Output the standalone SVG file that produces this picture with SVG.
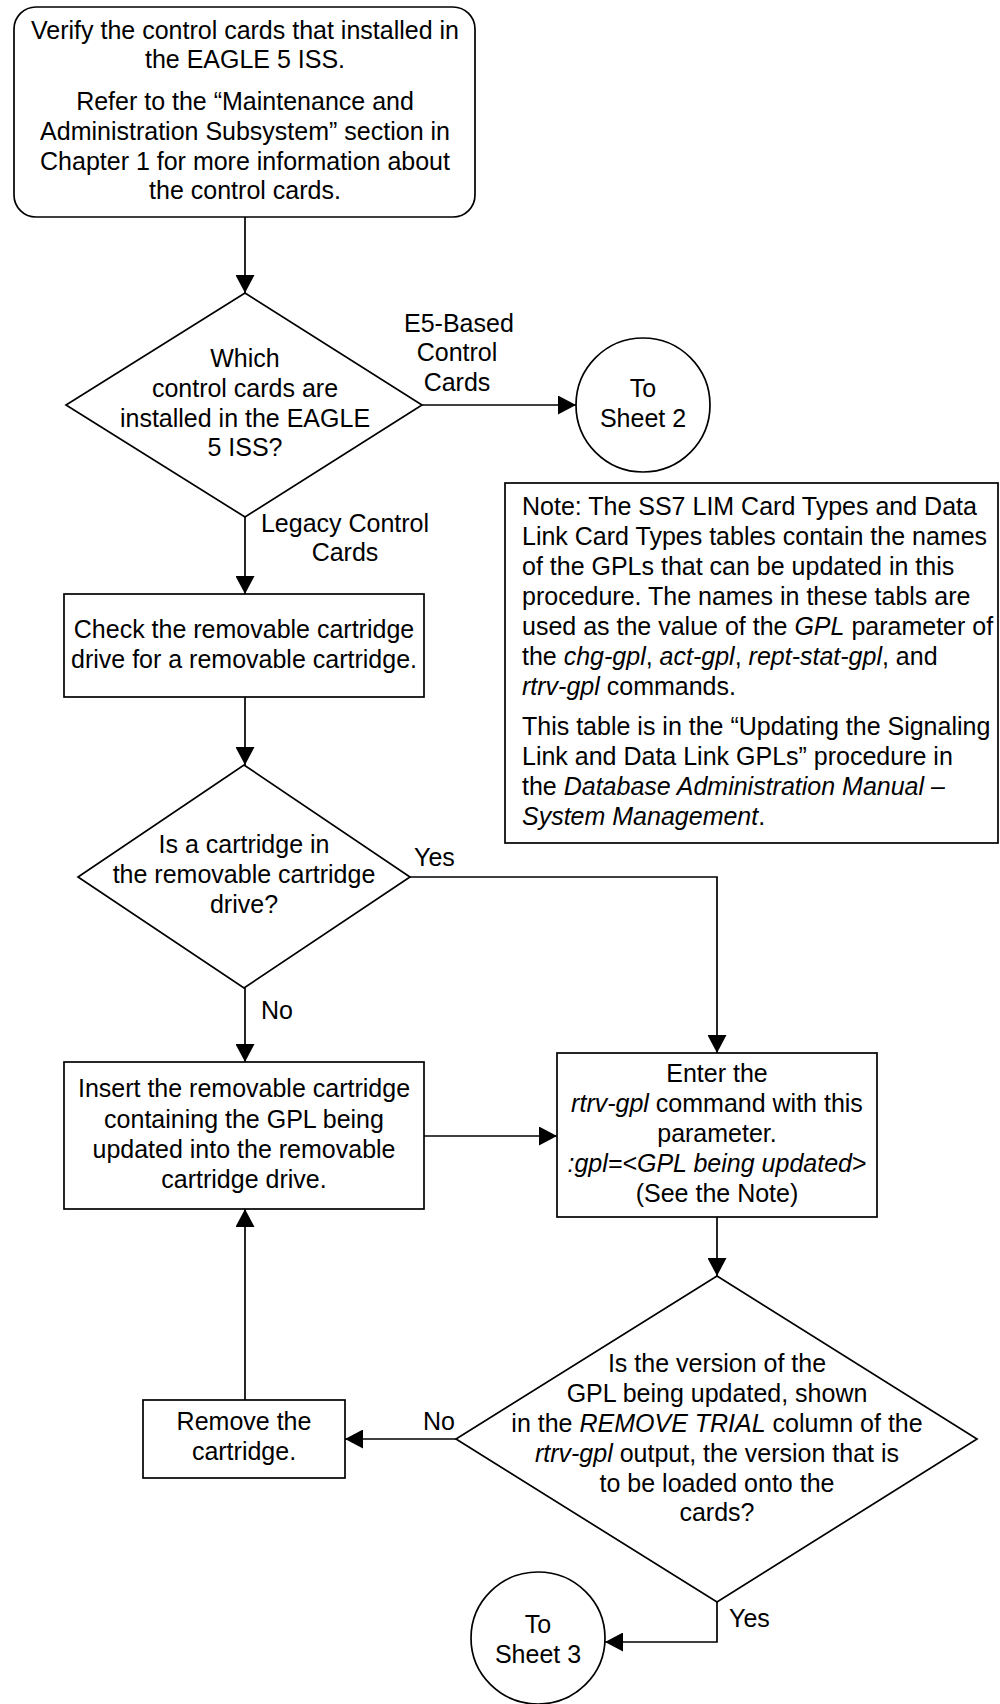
<svg xmlns="http://www.w3.org/2000/svg" width="1000" height="1704" viewBox="0 0 1000 1704">
<defs>
<style>
text{font-family:"Liberation Sans",Arial,sans-serif;font-size:25px;fill:#000}
.c{text-anchor:middle}
.i{font-style:italic}
.s{fill:#fff;stroke:#000;stroke-width:1.7}
.l{fill:none;stroke:#000;stroke-width:1.7}
</style>
<marker id="a" markerUnits="userSpaceOnUse" markerWidth="19" markerHeight="19" refX="18" refY="9.5" orient="auto" viewBox="0 0 19 19">
<path d="M0,0 L18,9.5 L0,19 z" fill="#000"/>
</marker>
</defs>
<rect width="1000" height="1704" fill="#fff"/>
<g id="connectors">
<path class="l" d="M245,217 V293" marker-end="url(#a)"/>
<path class="l" d="M422,405 H576" marker-end="url(#a)"/>
<path class="l" d="M245,517 V594" marker-end="url(#a)"/>
<path class="l" d="M245,697 V765" marker-end="url(#a)"/>
<path class="l" d="M410,877 H717 V1053" marker-end="url(#a)"/>
<path class="l" d="M245,988 V1062" marker-end="url(#a)"/>
<path class="l" d="M424,1136 H557" marker-end="url(#a)"/>
<path class="l" d="M717,1217 V1276" marker-end="url(#a)"/>
<path class="l" d="M456,1439 H345" marker-end="url(#a)"/>
<path class="l" d="M245,1400 V1209" marker-end="url(#a)"/>
<path class="l" d="M717,1602 V1642 H605" marker-end="url(#a)"/>
<text x="404" y="332">E5-Based</text>
<text x="457" y="361" class="c">Control</text>
<text x="457" y="391" class="c">Cards</text>
<text x="345" y="532" class="c">Legacy Control</text>
<text x="345" y="561" class="c">Cards</text>
<text x="414" y="866">Yes</text>
<text x="261" y="1019">No</text>
<text x="423" y="1430">No</text>
<text x="729" y="1627">Yes</text>
</g>
<g id="start">
<rect class="s" x="14" y="7" width="461" height="210" rx="22"/>
<text x="245" y="39" class="c">Verify the control cards that installed in</text>
<text x="245" y="68" class="c">the EAGLE 5 ISS.</text>
<text x="245" y="110" class="c">Refer to the “Maintenance and</text>
<text x="245" y="140" class="c">Administration Subsystem” section in</text>
<text x="245" y="170" class="c">Chapter 1 for more information about</text>
<text x="245" y="199" class="c">the control cards.</text>
</g>
<g id="d1">
<polygon class="s" points="245,293 422,405 245,517 66,405"/>
<text x="245" y="367" class="c">Which</text>
<text x="245" y="397" class="c">control cards are</text>
<text x="245" y="427" class="c">installed in the EAGLE</text>
<text x="245" y="456" class="c">5 ISS?</text>
</g>
<g id="sheet2">
<circle class="s" cx="643" cy="405" r="67"/>
<text x="643" y="397" class="c">To</text>
<text x="643" y="427" class="c">Sheet 2</text>
</g>
<g id="note">
<rect class="s" x="505" y="483" width="493" height="360"/>
<text x="522" y="515">Note: The SS7 LIM Card Types and Data</text>
<text x="522" y="545">Link Card Types tables contain the names</text>
<text x="522" y="575">of the GPLs that can be updated in this</text>
<text x="522" y="605">procedure. The names in these tabls are</text>
<text x="522" y="635">used as the value of the <tspan class="i">GPL</tspan> parameter of</text>
<text x="522" y="665">the <tspan class="i">chg-gpl</tspan>, <tspan class="i">act-gpl</tspan>, <tspan class="i">rept-stat-gpl</tspan>, and</text>
<text x="522" y="695"><tspan class="i">rtrv-gpl</tspan> commands.</text>
<text x="522" y="735">This table is in the “Updating the Signaling</text>
<text x="522" y="765">Link and Data Link GPLs” procedure in</text>
<text x="522" y="795">the <tspan class="i">Database Administration Manual –</tspan></text>
<text x="522" y="825"><tspan class="i">System Management</tspan>.</text>
</g>
<g id="check">
<rect class="s" x="64" y="594" width="360" height="103"/>
<text x="244" y="638" class="c">Check the removable cartridge</text>
<text x="244" y="668" class="c">drive for a removable cartridge.</text>
</g>
<g id="d2">
<polygon class="s" points="244,765 410,877 244,988 78,877"/>
<text x="244" y="853" class="c">Is a cartridge in</text>
<text x="244" y="883" class="c">the removable cartridge</text>
<text x="244" y="913" class="c">drive?</text>
</g>
<g id="insert">
<rect class="s" x="64" y="1062" width="360" height="147"/>
<text x="244" y="1097" class="c">Insert the removable cartridge</text>
<text x="244" y="1128" class="c">containing the GPL being</text>
<text x="244" y="1158" class="c">updated into the removable</text>
<text x="244" y="1188" class="c">cartridge drive.</text>
</g>
<g id="enter">
<rect class="s" x="557" y="1053" width="320" height="164"/>
<text x="717" y="1082" class="c">Enter the</text>
<text x="717" y="1112" class="c"><tspan class="i">rtrv-gpl</tspan> command with this</text>
<text x="717" y="1142" class="c">parameter.</text>
<text x="717" y="1172" class="c"><tspan class="i">:gpl=&lt;GPL being updated</tspan>&gt;</text>
<text x="717" y="1202" class="c">(See the Note)</text>
</g>
<g id="d3">
<polygon class="s" points="717,1276 977,1439 717,1602 456,1439"/>
<text x="717" y="1372" class="c">Is the version of the</text>
<text x="717" y="1402" class="c">GPL being updated, shown</text>
<text x="717" y="1432" class="c">in the <tspan class="i">REMOVE TRIAL</tspan> column of the</text>
<text x="717" y="1462" class="c"><tspan class="i">rtrv-gpl</tspan> output, the version that is</text>
<text x="717" y="1492" class="c">to be loaded onto the</text>
<text x="717" y="1521" class="c">cards?</text>
</g>
<g id="remove">
<rect class="s" x="143" y="1400" width="202" height="78"/>
<text x="244" y="1430" class="c">Remove the</text>
<text x="244" y="1460" class="c">cartridge.</text>
</g>
<g id="sheet3">
<ellipse class="s" cx="538" cy="1638" rx="67" ry="66"/>
<text x="538" y="1633" class="c">To</text>
<text x="538" y="1663" class="c">Sheet 3</text>
</g>
</svg>
